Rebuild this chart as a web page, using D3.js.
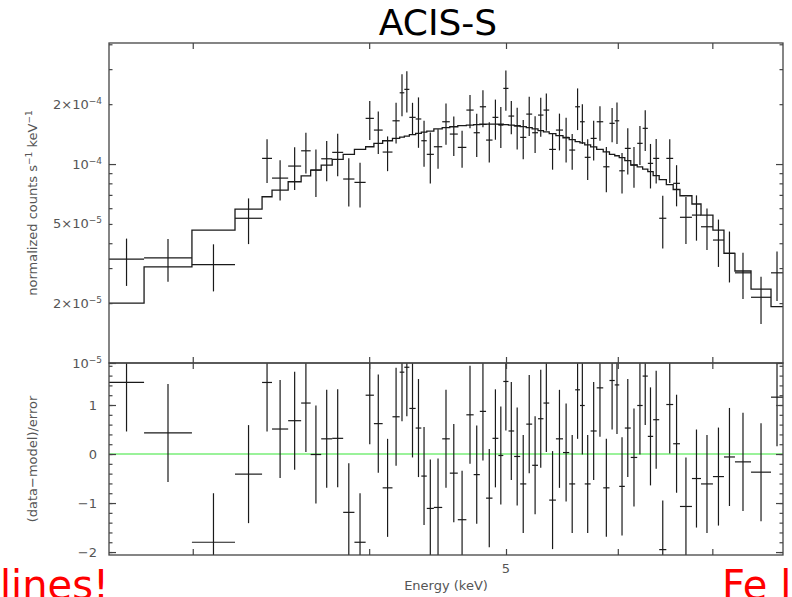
<!DOCTYPE html>
<html>
<head>
<meta charset="utf-8">
<script src="https://cdn.jsdelivr.net/npm/d3@7"></script>
<style>
  body { margin: 0; background: #fff; }
  svg { display: block; }
  text { font-family: "DejaVu Sans", sans-serif; }
</style>
</head>
<body>
<svg id="chart" width="792" height="597"></svg>
<script>
// spectrum values are in units of 1e-5 counts s^-1 keV^-1
var UNIT = 1e-5;

// bin edges, keV (72 edges -> 71 bins)
var E_EDGES = [2.617, 2.771, 2.996, 3.214, 3.359, 3.414, 3.505, 3.580, 3.636, 3.699,
  3.766, 3.834, 3.905, 3.977, 4.031, 4.089, 4.155, 4.204, 4.236, 4.271,
  4.315, 4.355, 4.394, 4.445, 4.506, 4.562, 4.622, 4.687, 4.743, 4.791,
  4.840, 4.891, 4.938, 4.978, 5.020, 5.067, 5.117, 5.168, 5.218, 5.268,
  5.315, 5.365, 5.424, 5.487, 5.543, 5.597, 5.641, 5.685, 5.740, 5.797,
  5.859, 5.919, 5.970, 6.014, 6.069, 6.128, 6.193, 6.248, 6.301, 6.356,
  6.419, 6.494, 6.567, 6.640, 6.771, 6.872, 7.007, 7.134, 7.263, 7.456,
  7.703, 7.855];

var FLUX = [3.33, 3.38, 3.12, 5.34, 10.68, 8.50, 9.77, 11.66, 9.33, 10.63,
  11.45, 8.41, 8.09, 16.97, 14.82, 11.49, 16.50, 22.82, 23.74, 17.17,
  16.85, 13.10, 11.19, 12.22, 16.32, 14.15, 12.13, 18.68, 14.37, 19.41,
  13.20, 17.17, 15.70, 24.01, 17.43, 15.52, 13.62, 17.83, 14.37, 17.63,
  18.68, 11.85, 14.82, 13.62, 11.76, 19.41, 16.32, 10.81, 13.46, 16.32,
  9.69, 16.02, 16.50, 9.25, 11.99, 9.89, 12.71, 15.12, 10.08, 10.68,
  5.34, 10.68, 8.00, 5.40, 5.54, 4.84, 4.15, 3.56, 2.84, 2.14, 2.84];

var FLUX_ERR = [0.89, 0.82, 0.83, 1.38, 2.65, 1.94, 2.37, 2.69, 2.50, 2.43,
  2.76, 2.29, 2.05, 3.75, 3.57, 2.28, 3.81, 5.45, 5.56, 3.15,
  4.78, 3.41, 3.21, 2.75, 3.81, 3.17, 2.56, 3.56, 3.51, 4.11,
  3.02, 3.92, 3.64, 5.50, 3.29, 3.69, 3.05, 3.98, 3.02, 3.91,
  3.98, 2.48, 3.11, 3.45, 2.41, 4.59, 3.69, 2.50, 3.04, 3.23,
  2.48, 3.13, 3.90, 2.13, 3.13, 2.29, 2.81, 3.50, 2.54, 2.70,
  1.58, 2.66, 1.87, 1.43, 1.42, 1.14, 1.11, 1.02, 0.74, 0.57, 0.79];

var MODEL = [2.00, 3.04, 4.66, 5.94, 6.85, 7.40, 8.15, 8.73, 9.33, 9.88,
  10.56, 11.19, 11.85, 12.22, 12.71, 13.10, 13.46, 13.67, 13.83, 14.07,
  14.27, 14.48, 14.65, 15.03, 15.24, 15.40, 15.59, 15.70, 15.78, 15.85,
  15.89, 15.89, 15.85, 15.80, 15.70, 15.59, 15.43, 15.26, 15.03, 14.74,
  14.52, 14.22, 13.89, 13.56, 13.26, 12.97, 12.77, 12.50, 12.20, 11.85,
  11.52, 11.19, 11.01, 10.78, 10.41, 9.89, 9.69, 9.44, 9.17, 8.75,
  8.36, 7.89, 7.45, 6.93, 6.30, 5.54, 4.66, 3.56, 2.90, 2.35, 1.92];

// (data-model)/error
var RESID = [1.46, 0.43, -1.80, -0.41, 1.46, 0.51, 0.68, 1.04, -0.01, 0.31,
  0.32, -1.19, -1.80, 1.20, 0.62, -0.69, 0.76, 1.67, 1.77, 0.93,
  0.53, -0.45, -1.11, -1.09, 0.31, -0.39, -1.34, 0.80, -0.42, 0.87,
  -0.90, 0.32, -0.03, 1.48, 0.47, -0.05, -0.61, 0.61, -0.23, 0.72,
  1.04, -0.94, 0.31, 0.03, -0.61, 1.31, 0.99, -0.61, 0.47, 1.35,
  -0.69, 1.50, 1.41, -0.66, 0.53, -0.07, 0.99, 1.59, 0.36, 0.70,
  -1.95, 1.01, 0.21, -1.07, -0.50, -0.61, -0.46, -0.06, -0.16, -0.37, 1.16];

var X_MAJOR = [3, 4, 5, 6, 7];
var X_LABELS = [5];
var Y_MAJOR = [1e-5, 1e-4];
var Y_MINOR = [2e-5, 3e-5, 4e-5, 5e-5, 6e-5, 7e-5, 8e-5, 9e-5, 2e-4, 3e-4, 4e-4];
var Y_LABELS = [
  { v: 2e-4, mant: "2\u00d710", exp: "\u22124" },
  { v: 1e-4, mant: "10", exp: "\u22124" },
  { v: 5e-5, mant: "5\u00d710", exp: "\u22125" },
  { v: 2e-5, mant: "2\u00d710", exp: "\u22125" },
  { v: 1e-5, mant: "10", exp: "\u22125" }
];
var R_MAJOR = [-2, -1, 0, 1];
var R_MINOR = d3.range(-20, 19, 2).map(function(d) { return d / 10; });

var svg = d3.select("#chart");

// panel edges in pixels
var pLeft = 109, pRight = 783, pTop = 43, pMid = 363, pBottom = 555;

var x = d3.scaleLog()
    .domain([E_EDGES[0], E_EDGES[E_EDGES.length - 1]])
    .range([pLeft, pRight]);
var y = d3.scaleLog()
    .domain([1e-5, 4.06e-4])
    .range([pMid, pTop]);
var yr = d3.scaleLinear()
    .domain([-2.06, 1.857])
    .range([pBottom, pMid]);

var bins = FLUX.map(function(f, i) {
  return {
    lo: E_EDGES[i], hi: E_EDGES[i + 1],
    f: f * UNIT, err: FLUX_ERR[i] * UNIT,
    m: MODEL[i] * UNIT, r: RESID[i]
  };
});

// clip paths for the two panels
var defs = svg.append("defs");
defs.append("clipPath").attr("id", "clipTop")
  .append("rect").attr("x", pLeft).attr("y", pTop)
  .attr("width", pRight - pLeft).attr("height", pMid - pTop);
defs.append("clipPath").attr("id", "clipBot")
  .append("rect").attr("x", pLeft).attr("y", pMid)
  .attr("width", pRight - pLeft).attr("height", pBottom - pMid);

var ink = "#1a1a1a";
var frameCol = "#444";
var labelCol = "#555";

// ---------- upper panel ----------
var gTop = svg.append("g").attr("clip-path", "url(#clipTop)");

var stepPts = bins.map(function(b) { return [b.lo, b.m]; });
stepPts.push([bins[bins.length - 1].hi, bins[bins.length - 1].m]);
gTop.append("path")
  .datum(stepPts)
  .attr("fill", "none")
  .attr("stroke", ink)
  .attr("stroke-width", 1.3)
  .attr("d", d3.line()
    .x(function(d) { return x(d[0]); })
    .y(function(d) { return y(d[1]); })
    .curve(d3.curveStepAfter));

var pt = gTop.selectAll(".pt").data(bins).enter().append("g").attr("class", "pt");
pt.append("line")
  .attr("x1", function(d) { return x(d.lo); })
  .attr("x2", function(d) { return x(d.hi); })
  .attr("y1", function(d) { return y(d.f); })
  .attr("y2", function(d) { return y(d.f); })
  .attr("stroke", ink).attr("stroke-width", 1.2);
pt.append("line")
  .attr("x1", function(d) { return x(Math.sqrt(d.lo * d.hi)); })
  .attr("x2", function(d) { return x(Math.sqrt(d.lo * d.hi)); })
  .attr("y1", function(d) { return y(d.f + d.err); })
  .attr("y2", function(d) { return y(Math.max(d.f - d.err, 1e-6)); })
  .attr("stroke", ink).attr("stroke-width", 1.2);

// ---------- lower panel ----------
var gBot = svg.append("g").attr("clip-path", "url(#clipBot)");

gBot.append("line")
  .attr("x1", pLeft).attr("x2", pRight)
  .attr("y1", yr(0)).attr("y2", yr(0))
  .attr("stroke", "#78ee78").attr("stroke-width", 1.6);

var rp = gBot.selectAll(".rp").data(bins).enter().append("g").attr("class", "rp");
rp.append("line")
  .attr("x1", function(d) { return x(d.lo); })
  .attr("x2", function(d) { return x(d.hi); })
  .attr("y1", function(d) { return yr(d.r); })
  .attr("y2", function(d) { return yr(d.r); })
  .attr("stroke", ink).attr("stroke-width", 1.2);
rp.append("line")
  .attr("x1", function(d) { return x(Math.sqrt(d.lo * d.hi)); })
  .attr("x2", function(d) { return x(Math.sqrt(d.lo * d.hi)); })
  .attr("y1", function(d) { return yr(d.r + 1); })
  .attr("y2", function(d) { return yr(d.r - 1); })
  .attr("stroke", ink).attr("stroke-width", 1.2);

// ---------- ticks (inward, pgplot style) ----------
function ticks(axis, tx, ty) {
  var g = svg.append("g")
    .attr("transform", "translate(" + tx + "," + ty + ")")
    .call(axis.tickFormat(""));
  g.select(".domain").remove();
  g.selectAll(".tick line").attr("stroke", frameCol).attr("stroke-width", 1.2);
}

// x ticks on every horizontal edge
ticks(d3.axisTop(x).tickValues(X_MAJOR).tickSize(-6), 0, pTop);
ticks(d3.axisBottom(x).tickValues(X_MAJOR).tickSize(-6), 0, pMid);
ticks(d3.axisTop(x).tickValues(X_MAJOR).tickSize(-6), 0, pMid);
ticks(d3.axisBottom(x).tickValues(X_MAJOR).tickSize(-6), 0, pBottom);

// y ticks, upper panel
ticks(d3.axisLeft(y).tickValues(Y_MAJOR).tickSize(-7), pLeft, 0);
ticks(d3.axisLeft(y).tickValues(Y_MINOR).tickSize(-3.5), pLeft, 0);
ticks(d3.axisRight(y).tickValues(Y_MAJOR).tickSize(-7), pRight, 0);
ticks(d3.axisRight(y).tickValues(Y_MINOR).tickSize(-3.5), pRight, 0);

// y ticks, lower panel
ticks(d3.axisLeft(yr).tickValues(R_MAJOR).tickSize(-7), pLeft, 0);
ticks(d3.axisLeft(yr).tickValues(R_MINOR).tickSize(-3.5), pLeft, 0);
ticks(d3.axisRight(yr).tickValues(R_MAJOR).tickSize(-7), pRight, 0);
ticks(d3.axisRight(yr).tickValues(R_MINOR).tickSize(-3.5), pRight, 0);

// frames
[[pTop, pMid], [pMid, pBottom]].forEach(function(p) {
  svg.append("rect")
    .attr("x", pLeft).attr("y", p[0])
    .attr("width", pRight - pLeft).attr("height", p[1] - p[0])
    .attr("fill", "none").attr("stroke", frameCol).attr("stroke-width", 1.3);
});

// ---------- labels ----------
var lab = svg.append("g").attr("fill", labelCol).attr("font-size", 13);

Y_LABELS.forEach(function(d) {
  var t = lab.append("text")
    .attr("x", 102).attr("y", y(d.v) + 4.5)
    .attr("text-anchor", "end");
  t.append("tspan").text(d.mant);
  t.append("tspan").attr("dy", -5).attr("font-size", 9).text(d.exp);
});

R_MAJOR.forEach(function(v) {
  lab.append("text")
    .attr("x", 97).attr("y", yr(v) + 4.5)
    .attr("text-anchor", "end")
    .text(v < 0 ? "\u2212" + Math.abs(v) : String(v));
});

X_LABELS.forEach(function(v) {
  lab.append("text")
    .attr("x", x(v)).attr("y", 573)
    .attr("text-anchor", "middle")
    .text(v);
});

lab.append("text")
  .attr("x", (pLeft + pRight) / 2).attr("y", 590)
  .attr("text-anchor", "middle")
  .text("Energy  (keV)");

var yl = lab.append("text")
  .attr("transform", "translate(37," + (pTop + pMid) / 2 + ") rotate(-90)")
  .attr("text-anchor", "middle");
yl.append("tspan").text("normalized counts  s");
yl.append("tspan").attr("dy", -5).attr("font-size", 9).text("\u22121");
yl.append("tspan").attr("dy", 5).text("  keV");
yl.append("tspan").attr("dy", -5).attr("font-size", 9).text("\u22121");

lab.append("text")
  .attr("transform", "translate(37," + (pMid + pBottom) / 2 + ") rotate(-90)")
  .attr("text-anchor", "middle")
  .text("(data\u2212model)/error");

svg.append("text")
  .attr("x", 438).attr("y", 35)
  .attr("text-anchor", "middle")
  .attr("font-family", "Liberation Sans, Arial, sans-serif")
  .attr("font-size", 36)
  .attr("fill", "#000")
  .text("ACIS-S");

svg.append("text")
  .attr("x", 0).attr("y", 599)
  .attr("font-family", "Liberation Sans, Arial, sans-serif")
  .attr("font-size", 40)
  .attr("fill", "#ff0000")
  .text("lines!");

svg.append("text")
  .attr("x", 722).attr("y", 599)
  .attr("font-family", "Liberation Sans, Arial, sans-serif")
  .attr("font-size", 40)
  .attr("fill", "#ff0000")
  .text("Fe l");
</script>
</body>
</html>
